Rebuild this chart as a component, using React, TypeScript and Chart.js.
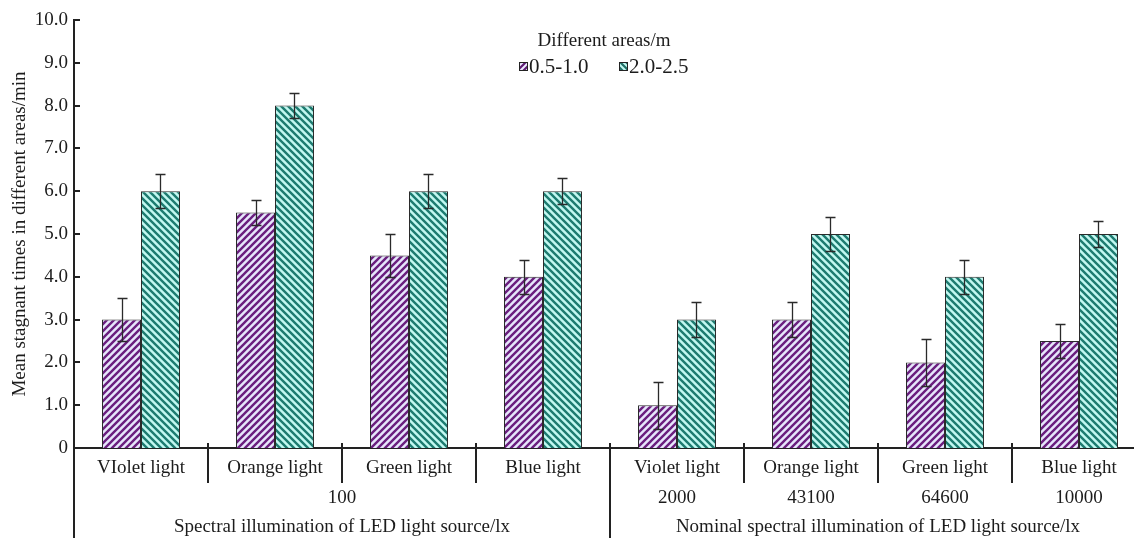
import React, { useEffect, useRef } from "react";
import { Chart, registerables } from "chart.js";

Chart.register(...registerables);

// ---------- data ----------
const categories = [
  "VIolet light",
  "Orange light",
  "Green light",
  "Blue light",
  "Violet light",
  "Orange light",
  "Green light",
  "Blue light",
];
const seriesNames = ["0.5-1.0", "2.0-2.5"];
const area05 = [3.0, 5.5, 4.5, 4.0, 1.0, 3.0, 2.0, 2.5];
const area05Err = [0.5, 0.3, 0.5, 0.4, 0.55, 0.4, 0.55, 0.4];
const area20 = [6.0, 8.0, 6.0, 6.0, 3.0, 5.0, 4.0, 5.0];
const area20Err = [0.4, 0.3, 0.4, 0.3, 0.4, 0.4, 0.4, 0.3];

const illuminationLabels = ["100", "2000", "43100", "64600", "10000"];
const illuminationSpans = [
  [0, 3],
  [4, 4],
  [5, 5],
  [6, 6],
  [7, 7],
];
const groupTitles = [
  "Spectral illumination of LED light source/lx",
  "Nominal spectral illumination of LED light source/lx",
];
const groupSpans = [
  [0, 3],
  [4, 7],
];
const yTitle = "Mean stagnant times in different areas/min";
const legendTitle = "Different areas/m";
const yMin = 0;
const yMax = 10;
const yStep = 1;

// ---------- style ----------
const FONT_FAMILY = "'Liberation Serif', 'Times New Roman', serif";
const TEXT = "#1c1c1c";
const LINE = "#222222";

function makePattern(bg: string, fg: string, dir: "/" | "\\", size = 7, lw = 2.4) {
  const c = document.createElement("canvas");
  c.width = size;
  c.height = size;
  const g = c.getContext("2d")!;
  g.fillStyle = bg;
  g.fillRect(0, 0, size, size);
  g.strokeStyle = fg;
  g.lineWidth = lw;
  g.beginPath();
  if (dir === "/") {
    g.moveTo(0, size);
    g.lineTo(size, 0);
    g.moveTo(-size / 2, size / 2);
    g.lineTo(size / 2, -size / 2);
    g.moveTo(size / 2, size * 1.5);
    g.lineTo(size * 1.5, size / 2);
  } else {
    g.moveTo(0, 0);
    g.lineTo(size, size);
    g.moveTo(-size / 2, size / 2);
    g.lineTo(size / 2, size * 1.5);
    g.moveTo(size / 2, -size / 2);
    g.lineTo(size * 1.5, size / 2);
  }
  g.stroke();
  return g.createPattern(c, "repeat")!;
}

export default function App() {
  const ref = useRef<HTMLCanvasElement | null>(null);

  useEffect(() => {
    const canvas = ref.current!;
    const patA = makePattern("#e6e6fb", "#6a1e7e", "/");
    const patB = makePattern("#c2f8f1", "#1d7b70", "\\");
    const legA = makePattern("#ecebff", "#5e1a74", "/", 6, 2.2);
    const legB = makePattern("#c2f8f1", "#1d6f66", "\\", 6, 2.2);
    const errs = [area05Err, area20Err];
    const font = { family: FONT_FAMILY, size: 19 };

    const errorBars = {
      id: "errorBars",
      afterDatasetsDraw(chart: any) {
        const ctx = chart.ctx;
        const y = chart.scales.y;
        ctx.save();
        ctx.strokeStyle = "#2a2a2a";
        ctx.lineWidth = 1.3;
        chart.data.datasets.forEach((ds: any, di: number) => {
          const meta = chart.getDatasetMeta(di);
          meta.data.forEach((el: any, i: number) => {
            const v = ds.data[i];
            const e = errs[di][i];
            const yt = Math.round(y.getPixelForValue(v + e)) + 0.5;
            const yb = Math.round(y.getPixelForValue(v - e)) + 0.5;
            const x = Math.round(el.x) + 0.5;
            ctx.beginPath();
            ctx.moveTo(x, yt);
            ctx.lineTo(x, yb);
            ctx.moveTo(x - 5, yt);
            ctx.lineTo(x + 5, yt);
            ctx.moveTo(x - 5, yb);
            ctx.lineTo(x + 5, yb);
            ctx.stroke();
          });
        });
        ctx.restore();
      },
    };

    const decorations = {
      id: "decorations",
      afterDraw(chart: any) {
        const ctx = chart.ctx;
        const { left, bottom } = chart.chartArea;
        const xs = chart.scales.x;
        const ys = chart.scales.y;
        const H = chart.height;
        ctx.save();
        ctx.strokeStyle = LINE;
        ctx.lineWidth = 2;
        // y axis extension below x axis
        ctx.beginPath();
        ctx.moveTo(left, bottom);
        ctx.lineTo(left, H);
        ctx.stroke();
        // inward y ticks
        ys.ticks.forEach((t: any) => {
          const py = Math.round(ys.getPixelForValue(t.value));
          ctx.beginPath();
          ctx.moveTo(left, py);
          ctx.lineTo(left + 6, py);
          ctx.stroke();
        });
        // category dividers
        const groupBoundaries = groupSpans.slice(1).map((s) => s[0]);
        for (let k = 1; k < categories.length; k++) {
          const px = Math.round(
            (xs.getPixelForValue(k - 1) + xs.getPixelForValue(k)) / 2
          );
          const isGroup = groupBoundaries.includes(k);
          ctx.beginPath();
          ctx.moveTo(px, bottom - 5);
          ctx.lineTo(px, isGroup ? H : bottom + 35);
          ctx.stroke();
        }
        // second and third label rows
        ctx.fillStyle = TEXT;
        ctx.font = `19px ${FONT_FAMILY}`;
        ctx.textAlign = "center";
        ctx.textBaseline = "middle";
        illuminationLabels.forEach((lab, i) => {
          const [a, b] = illuminationSpans[i];
          const px = (xs.getPixelForValue(a) + xs.getPixelForValue(b)) / 2;
          ctx.fillText(lab, px, bottom + 50);
        });
        groupTitles.forEach((lab, i) => {
          const [a, b] = groupSpans[i];
          const px = (xs.getPixelForValue(a) + xs.getPixelForValue(b)) / 2;
          ctx.fillText(lab, px, bottom + 79);
        });
        // legend
        ctx.fillText(legendTitle, 604, 41);
        const items = [
          { x: 519, pat: legA, label: seriesNames[0] },
          { x: 619, pat: legB, label: seriesNames[1] },
        ];
        ctx.font = `21px ${FONT_FAMILY}`;
        items.forEach((it) => {
          ctx.fillStyle = it.pat;
          ctx.fillRect(it.x, 62, 9, 9);
          ctx.strokeStyle = LINE;
          ctx.lineWidth = 1;
          ctx.strokeRect(it.x + 0.5, 62.5, 8, 8);
          ctx.fillStyle = TEXT;
          ctx.textAlign = "left";
          ctx.fillText(it.label, it.x + 10, 67);
        });
        ctx.restore();
      },
    };

    const chart = new Chart(canvas, {
      type: "bar",
      data: {
        labels: categories,
        datasets: [
          {
            label: seriesNames[0],
            data: area05,
            backgroundColor: patA as any,
            borderColor: "#2b2b2b",
            borderWidth: 1,
          },
          {
            label: seriesNames[1],
            data: area20,
            backgroundColor: patB as any,
            borderColor: "#2b2b2b",
            borderWidth: 1,
          },
        ],
      },
      options: {
        animation: false,
        responsive: false,
        maintainAspectRatio: false,
        devicePixelRatio: 1,
        layout: { padding: { top: 20, right: 4, left: 0, bottom: 0 } },
        datasets: {
          bar: { categoryPercentage: 0.582, barPercentage: 1 },
        },
        plugins: {
          legend: { display: false },
          tooltip: { enabled: false },
        },
        scales: {
          x: {
            grid: { display: false, drawTicks: false },
            border: { display: true, color: LINE, width: 2 },
            ticks: {
              font,
              color: TEXT,
              padding: 8.5,
              autoSkip: false,
              maxRotation: 0,
            },
            afterFit: (s: any) => {
              s.height = 90;
            },
          },
          y: {
            min: yMin,
            max: yMax,
            grid: { display: false, drawTicks: false },
            border: { display: true, color: LINE, width: 2 },
            ticks: {
              stepSize: yStep,
              font,
              color: TEXT,
              padding: 6,
              callback: (v: any) => (Number(v) === 0 ? "0" : Number(v).toFixed(1)),
            },
            title: {
              display: true,
              text: yTitle,
              font,
              color: TEXT,
              padding: { top: 9, bottom: 0 },
            },
            afterFit: (s: any) => {
              s.width = 74;
            },
          },
        },
      },
      plugins: [errorBars, decorations],
    });

    return () => chart.destroy();
  }, []);

  return (
    <div
      style={{
        position: "fixed",
        left: 0,
        top: 0,
        width: 1134,
        height: 538,
        overflow: "hidden",
        background: "#ffffff",
      }}
    >
      <canvas ref={ref} width={1150} height={538} style={{ display: "block" }} />
    </div>
  );
}
